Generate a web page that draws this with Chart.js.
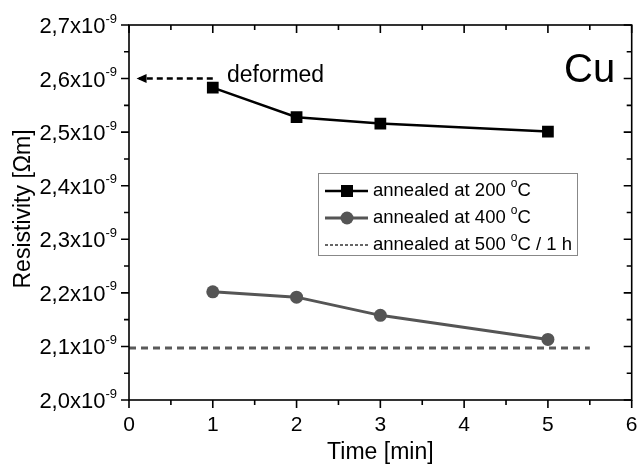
<!DOCTYPE html>
<html>
<head>
<meta charset="utf-8">
<script src="https://cdn.jsdelivr.net/npm/chart.js@4"></script>
<style>
  html, body { margin: 0; padding: 0; background: #fff; }
  #wrap { width: 640px; height: 464px; }
</style>
</head>
<body>
<div id="wrap"><canvas id="myChart" width="640" height="464"></canvas></div>
<script>
// data (resistivity in ohm*m)
let times = [1, 2, 3, 5];
let rho200 = [2.583e-9, 2.528e-9, 2.516e-9, 2.501e-9];
let rho400 = [2.202e-9, 2.192e-9, 2.158e-9, 2.113e-9];
let ref500X = [0, 5.5];
let ref500Y = [2.097e-9, 2.097e-9];
let deformedX = [1, 0.12];
let deformedY = [2.6e-9, 2.6e-9];

let xTicks = [0, 1, 2, 3, 4, 5, 6];
let yTickValues = [2.0e-9, 2.1e-9, 2.2e-9, 2.3e-9, 2.4e-9, 2.5e-9, 2.6e-9, 2.7e-9];
let yTickLabels = ['2,0', '2,1', '2,2', '2,3', '2,4', '2,5', '2,6', '2,7'];
let legendLabels = ['annealed at 200 ', 'annealed at 400 ', 'annealed at 500 '];

const FONT = '"Liberation Sans", Arial, sans-serif';

function pts(xs, ys) {
    return xs.map((x, i) => ({x: x, y: ys[i]}));
}

// frame, ticks, labels and the legend are drawn by hand in Origin style
const frame = {
    id: 'frame',
    afterDatasetsDraw(chart) {
        const ctx = chart.ctx;
        const a = chart.chartArea;
        const xs = chart.scales.x, ys = chart.scales.y;
        ctx.save();

        // arrow head for "deformed"
        let tx = xs.getPixelForValue(0.09), ty = ys.getPixelForValue(deformedY[0]);
        ctx.fillStyle = '#000';
        ctx.beginPath();
        ctx.moveTo(tx, ty);
        ctx.lineTo(tx + 10, ty - 4.5);
        ctx.lineTo(tx + 10, ty + 4.5);
        ctx.closePath();
        ctx.fill();

        ctx.strokeStyle = '#000';
        ctx.lineWidth = 1.6;
        ctx.strokeRect(a.left, a.top, a.right - a.left, a.bottom - a.top);

        ctx.beginPath();
        for (let v = 0; v <= 6.001; v += 0.5) {
            let px = xs.getPixelForValue(v);
            let len = Math.abs(v - Math.round(v)) < 0.01 ? 8 : 5;
            ctx.moveTo(px, a.bottom); ctx.lineTo(px, a.bottom + len);
            ctx.moveTo(px, a.top); ctx.lineTo(px, a.top + len);
        }
        for (let i = 0; i <= 14; i++) {
            let py = ys.getPixelForValue(2.0e-9 + i * 0.05e-9);
            let len = i % 2 === 0 ? 8 : 5;
            ctx.moveTo(a.left - len, py); ctx.lineTo(a.left, py);
            ctx.moveTo(a.right - len, py); ctx.lineTo(a.right, py);
        }
        ctx.stroke();

        // x tick labels
        ctx.fillStyle = '#000';
        ctx.font = '21px ' + FONT;
        ctx.textAlign = 'center';
        ctx.textBaseline = 'top';
        xTicks.forEach(v => ctx.fillText(String(v), xs.getPixelForValue(v), 415));

        // y tick labels with x10^-9
        yTickValues.forEach((v, i) => {
            let py = ys.getPixelForValue(v);
            ctx.font = '13px ' + FONT;
            ctx.textAlign = 'right';
            ctx.textBaseline = 'middle';
            let sw = ctx.measureText('-9').width;
            ctx.fillText('-9', a.left - 12, py - 6);
            ctx.font = '22px ' + FONT;
            ctx.fillText(yTickLabels[i] + 'x10', a.left - 12 - sw, py + 2);
        });

        // axis titles
        ctx.font = '23px ' + FONT;
        ctx.textAlign = 'center';
        ctx.textBaseline = 'alphabetic';
        ctx.fillText('Time [min]', (a.left + a.right) / 2, 459);
        ctx.save();
        ctx.translate(30, 209);
        ctx.rotate(-Math.PI / 2);
        ctx.fillText('Resistivity [\u03A9m]', 0, 0);
        ctx.restore();

        // annotations
        ctx.textAlign = 'left';
        ctx.font = '23px ' + FONT;
        ctx.fillText('deformed', 227, 82);
        ctx.font = '40px ' + FONT;
        ctx.fillText('Cu', 564, 82);

        // legend
        ctx.fillStyle = '#fff';
        ctx.fillRect(318, 173, 259, 82);
        ctx.strokeStyle = '#888';
        ctx.lineWidth = 1;
        ctx.strokeRect(318.5, 173.5, 259, 82);
        let rows = [191, 218, 245];
        // sample 1
        ctx.strokeStyle = '#000'; ctx.lineWidth = 2.5;
        ctx.beginPath(); ctx.moveTo(325, rows[0]); ctx.lineTo(368, rows[0]); ctx.stroke();
        ctx.fillStyle = '#000'; ctx.fillRect(341, rows[0] - 6, 12, 12);
        // sample 2
        ctx.strokeStyle = '#555'; ctx.lineWidth = 3;
        ctx.beginPath(); ctx.moveTo(325, rows[1]); ctx.lineTo(368, rows[1]); ctx.stroke();
        ctx.fillStyle = '#555';
        ctx.beginPath(); ctx.arc(347, rows[1], 6.5, 0, Math.PI * 2); ctx.fill();
        // sample 3
        ctx.strokeStyle = '#666'; ctx.lineWidth = 2;
        ctx.setLineDash([3, 2]);
        ctx.beginPath(); ctx.moveTo(325, rows[2]); ctx.lineTo(368, rows[2]); ctx.stroke();
        ctx.setLineDash([]);

        ctx.fillStyle = '#000';
        ctx.textBaseline = 'middle';
        rows.forEach((ry, i) => {
            ctx.font = '18.5px ' + FONT;
            let x = 373;
            ctx.fillText(legendLabels[i], x, ry);
            x += ctx.measureText(legendLabels[i]).width;
            ctx.font = '12px ' + FONT;
            ctx.fillText('o', x, ry - 7);
            x += ctx.measureText('o').width;
            ctx.font = '18.5px ' + FONT;
            ctx.fillText(i === 2 ? 'C / 1 h' : 'C', x, ry);
        });

        ctx.restore();
    }
};

new Chart(document.getElementById('myChart'), {
    type: 'scatter',
    data: {
        datasets: [
            {
                label: 'annealed at 200 °C',
                data: pts(times, rho200),
                showLine: true,
                borderColor: '#000',
                backgroundColor: '#000',
                borderWidth: 2.5,
                pointStyle: 'rect',
                pointRadius: 8.3,
                pointBorderWidth: 0
            },
            {
                label: 'annealed at 400 °C',
                data: pts(times, rho400),
                showLine: true,
                borderColor: '#555',
                backgroundColor: '#555',
                borderWidth: 3,
                pointStyle: 'circle',
                pointRadius: 6.5,
                pointBorderWidth: 0
            },
            {
                label: 'annealed at 500 °C / 1 h',
                data: pts(ref500X, ref500Y),
                showLine: true,
                borderColor: '#5a5a5a',
                borderWidth: 3,
                borderDash: [7, 5],
                pointRadius: 0
            },
            {
                label: 'deformed',
                data: pts(deformedX, deformedY),
                showLine: true,
                borderColor: '#000',
                borderWidth: 2.5,
                borderDash: [6, 4],
                pointRadius: 0
            }
        ]
    },
    options: {
        responsive: false,
        animation: false,
        layout: {padding: {left: 129, right: 4, top: 25, bottom: 64}},
        plugins: {legend: {display: false}, tooltip: {enabled: false}},
        scales: {
            x: {type: 'linear', min: 0, max: 6, display: false},
            y: {type: 'linear', min: 2.0e-9, max: 2.7e-9, display: false}
        }
    },
    plugins: [frame]
});
</script>
</body>
</html>
